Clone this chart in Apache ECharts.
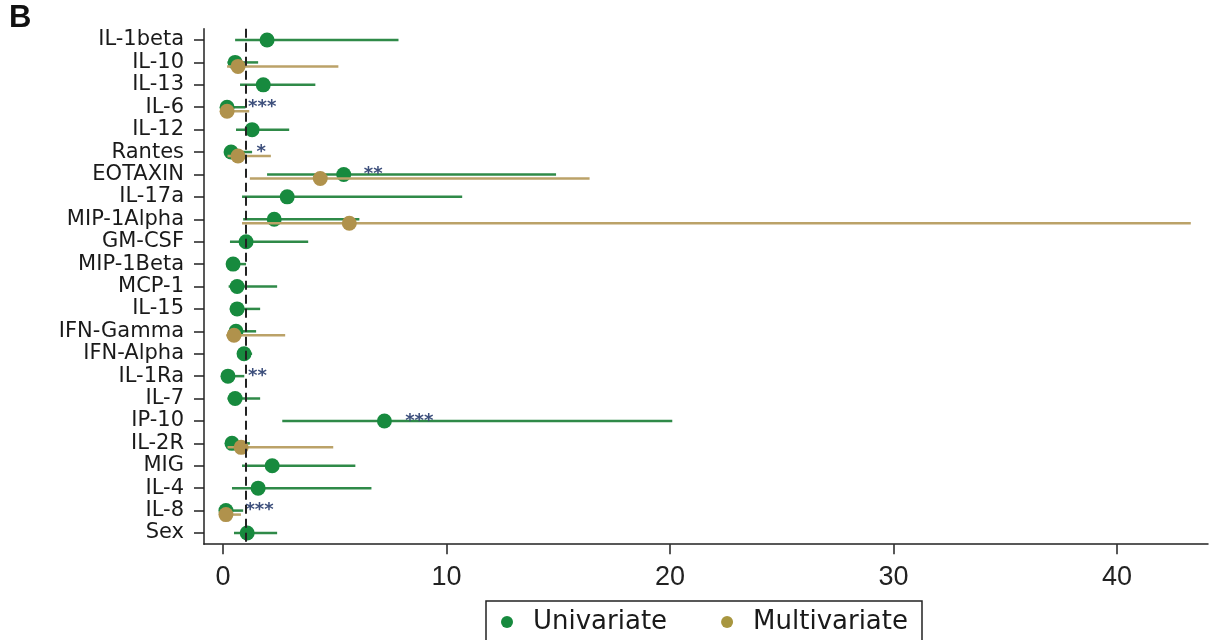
<!DOCTYPE html>
<html><head><meta charset="utf-8">
<script src="https://cdn.jsdelivr.net/npm/echarts@6/dist/echarts.min.js"></script>
<style>html,body{margin:0;padding:0;background:#fff}#c{width:1213px;height:640px}</style>
</head><body><div id="c"></div>
<script>
const categories = ['IL-1beta','IL-10','IL-13','IL-6','IL-12','Rantes','EOTAXIN','IL-17a','MIP-1Alpha','GM-CSF','MIP-1Beta','MCP-1','IL-15','IFN-Gamma','IFN-Alpha','IL-1Ra','IL-7','IP-10','IL-2R','MIG','IL-4','IL-8','Sex'];
const uniEst = [1.97,0.54,1.80,0.18,1.30,0.36,5.40,2.87,2.29,1.03,0.45,0.63,0.63,0.58,0.94,0.22,0.54,7.22,0.40,2.20,1.57,0.13,1.08];
const uniLo  = [0.54,0.20,0.76,0.05,0.58,0.10,1.97,0.85,0.90,0.31,0.20,0.25,0.30,0.25,0.70,0.08,0.20,2.65,0.15,0.85,0.40,0.03,0.49];
const uniHi  = [7.85,1.57,4.13,1.00,2.96,1.30,14.9,10.7,6.10,3.81,1.03,2.42,1.66,1.48,1.30,0.95,1.66,20.1,1.20,5.92,6.64,0.90,2.42];
const multiEst = [null,0.67,null,0.18,null,0.67,4.35,null,5.65,null,null,null,null,0.49,null,null,null,null,0.81,null,null,0.13,null];
const multiLo  = [null,0.18,null,0.05,null,0.20,1.20,null,0.85,null,null,null,null,0.15,null,null,null,null,0.20,null,null,0.03,null];
const multiHi  = [null,5.16,null,1.17,null,2.14,16.4,null,43.3,null,null,null,null,2.78,null,null,null,null,4.93,null,null,0.80,null];
const starCats = ['IL-6','Rantes','EOTAXIN','IL-1Ra','IP-10','IL-8'];
const starText = ['***','*','**','**','***','***'];
const starX    = [1.12,1.50,6.30,1.12,8.15,1.00];
const xTicks = [0,10,20,30,40];

const GREEN = '#178a3e', GREEN_LINE = '#2f8a48';
const TAN = '#b0924c', TAN_LINE = '#bba268';

function build(est, lo, hi) {
  const d = [];
  for (let i = 0; i < categories.length; i++) {
    if (est[i] == null) continue;
    d.push([i, lo[i], hi[i], est[i]]);
  }
  return d;
}
function ciRender(dy, color, lineColor) {
  return function (params, api) {
    const idx = api.value(0);
    const a = api.coord([api.value(1), idx]);
    const b = api.coord([api.value(2), idx]);
    const e = api.coord([api.value(3), idx]);
    return {
      type: 'group',
      children: [
        { type: 'line', shape: { x1: a[0], y1: a[1] + dy, x2: b[0], y2: b[1] + dy },
          style: { stroke: lineColor, lineWidth: 2.5 } },
        { type: 'circle', shape: { cx: e[0], cy: e[1] + dy, r: 7.5 },
          style: { fill: color } }
      ]
    };
  };
}

const chart = echarts.init(document.getElementById('c'));
chart.setOption({
  animation: false,
  backgroundColor: '#fff',
  title: { text: 'B', left: 9, top: 3, padding: 0,
    textStyle: { fontFamily: 'Liberation Sans', fontWeight: 'bold', fontSize: 31, color: '#111' } },
  grid: { left: 204, right: 5, top: 28.8, bottom: 95.8 },
  xAxis: {
    type: 'value', min: -0.852, max: 44.07,
    splitLine: { show: false },
    axisLine: { show: true, onZero: false, lineStyle: { color: '#222', width: 1.5 } },
    axisTick: { show: true, length: 10, customValues: xTicks, lineStyle: { color: '#222', width: 1.5 } },
    axisLabel: { customValues: xTicks, margin: 20, fontFamily: 'Liberation Sans', fontSize: 27, color: '#222' }
  },
  yAxis: {
    type: 'category', data: categories, inverse: true,
    axisLine: { show: true, onZero: false, lineStyle: { color: '#222', width: 1.5 } },
    axisTick: { show: true, length: 10, alignWithLabel: true, lineStyle: { color: '#222', width: 1.5 } },
    axisLabel: { margin: 20, fontFamily: 'DejaVu Sans', fontSize: 21, color: '#1a1a1a', interval: 0 }
  },
  legend: {
    left: 486, top: 601, orient: 'horizontal',
    borderColor: '#222', borderWidth: 1.5, borderRadius: 0,
    padding: [8, 14, 20, 15],
    itemWidth: 12, itemHeight: 12, itemGap: 54, icon: 'circle',
    textStyle: { fontFamily: 'DejaVu Sans', fontSize: 26, color: '#1a1a1a', padding: [0, 0, 0, 15] },
    data: [
      { name: 'Univariate', itemStyle: { color: GREEN } },
      { name: 'Multivariate', itemStyle: { color: '#a8963f' } }
    ]
  },
  series: [
    {
      name: 'Univariate', type: 'custom', itemStyle: { color: GREEN },
      renderItem: ciRender(0, GREEN, GREEN_LINE),
      encode: { x: [1, 2, 3], y: 0 },
      data: build(uniEst, uniLo, uniHi),
      markLine: {
        silent: true, symbol: 'none', label: { show: false },
        lineStyle: { color: '#222', width: 2, type: [9, 5] },
        data: [{ xAxis: 1 }]
      },
      z: 2
    },
    {
      name: 'Multivariate', type: 'custom', itemStyle: { color: TAN },
      renderItem: ciRender(4, TAN, TAN_LINE),
      encode: { x: [1, 2, 3], y: 0 },
      data: build(multiEst, multiLo, multiHi),
      z: 3
    },
    {
      name: 'stars', type: 'custom',
      renderItem: function (params, api) {
        const p = api.coord([api.value(1), api.value(0)]);
        return { type: 'text', x: p[0], y: p[1],
          style: { text: starText[params.dataIndex], fill: '#3d4f7c', fontSize: 18, fontWeight: 'bold',
            fontFamily: 'DejaVu Sans', textAlign: 'left', textVerticalAlign: 'middle' } };
      },
      encode: { x: 1, y: 0 },
      data: starCats.map((c, i) => [categories.indexOf(c), starX[i]]),
      z: 4
    }
  ]
});
</script></body></html>
